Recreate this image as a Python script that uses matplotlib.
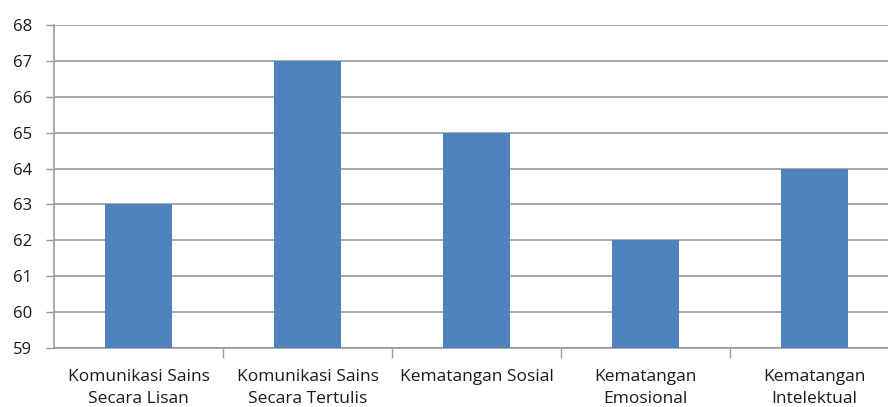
import matplotlib
matplotlib.use("Agg")
import matplotlib.pyplot as plt
import numpy as np

categories = ["Komunikasi Sains\nSecara Lisan", "Komunikasi Sains\nSecara Tertulis",
              "Kematangan Sosial", "Kematangan\nEmosional", "Kematangan\nIntelektual"]
values = [63, 67, 65, 62, 64]
yticks = list(range(59, 69))

plt.rcParams['font.family'] = ['Open Sans', 'DejaVu Sans']

fig = plt.figure(figsize=(8.88, 4.07), dpi=100)
# plot area runs a little past the right edge, as in the original
ax = fig.add_axes([54 / 888, 59 / 407, 845 / 888, 323 / 407])

x = np.arange(len(categories))
ax.bar(x, np.array(values) - 59, bottom=59, width=0.4, color="#4F81BD", zorder=3)

ax.set_ylim(59, 68)
ax.set_xlim(-0.5, len(categories) - 0.5)
ax.set_yticks(yticks)
ax.set_yticklabels([str(v) for v in yticks], fontsize=12, color="#1a1a1a")
ax.yaxis.grid(True, color="#999999", linewidth=1.2, zorder=0)
ax.tick_params(axis="y", length=6, width=1, color="#999999", pad=10)

ax.set_xticks(x)
ax.set_xticklabels(categories, fontsize=12.5, color="#1a1a1a", linespacing=1.55)
ax.tick_params(axis="x", length=0, pad=15)
ax.set_xticks(np.arange(0.5, len(categories) - 0.5, 1), minor=True)
ax.tick_params(axis="x", which="minor", length=7, width=1, color="#999999")

for side in ["top", "right"]:
    ax.spines[side].set_visible(False)
for side in ["left", "bottom"]:
    ax.spines[side].set_color("#999999")
    ax.spines[side].set_linewidth(1.2)

fig.savefig("out.png", dpi=100)
